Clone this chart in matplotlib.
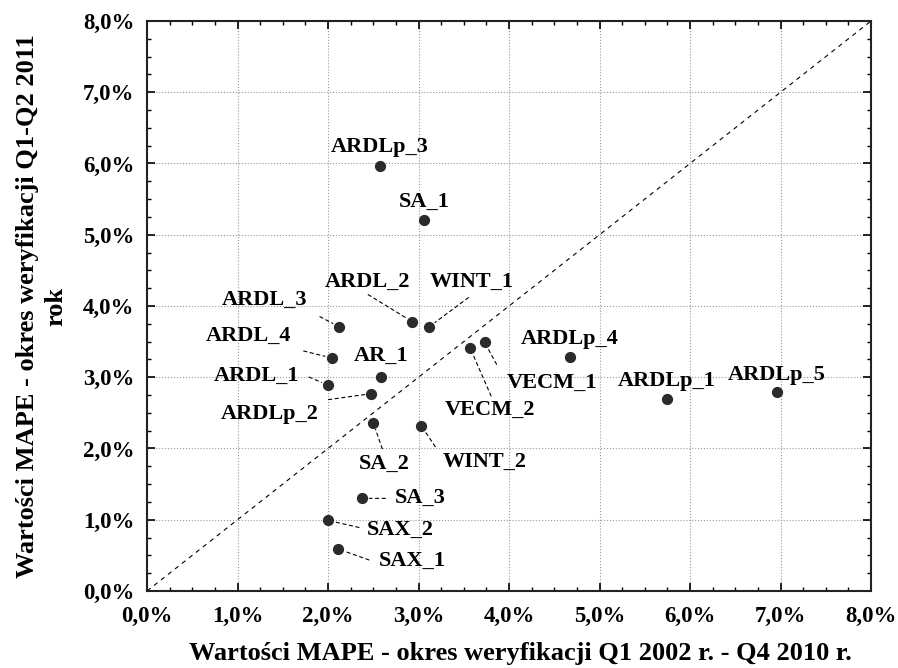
import matplotlib
matplotlib.use("Agg")
import matplotlib.pyplot as plt
from matplotlib.ticker import MultipleLocator, FuncFormatter

# dane: MAPE (%) w okresie Q1 2002 - Q4 2010 (x) i Q1-Q2 2011 (y)
models = ['ARDLp_3', 'SA_1', 'ARDL_2', 'WINT_1', 'ARDL_3', 'ARDL_4', 'AR_1',
          'ARDL_1', 'ARDLp_2', 'VECM_1', 'VECM_2', 'ARDLp_4', 'SA_2', 'WINT_2',
          'SA_3', 'SAX_2', 'SAX_1', 'ARDLp_1', 'ARDLp_5']
mape_fit = [2.57, 3.06, 2.93, 3.12, 2.12, 2.04, 2.59, 2.00, 2.48, 3.73, 3.57,
            4.67, 2.50, 3.03, 2.38, 2.00, 2.11, 5.74, 6.96]
mape_ver = [5.96, 5.20, 3.78, 3.71, 3.71, 3.27, 3.00, 2.89, 2.77, 3.49, 3.41,
            3.28, 2.36, 2.32, 1.30, 0.99, 0.59, 2.69, 2.79]

# przesunięcia etykiet (piksele) i początek linii odniesienia
label_off = {
    'ARDLp_3': (0, 19), 'SA_1': (0, 19), 'ARDL_2': (-45, 40), 'WINT_1': (42, 45),
    'ARDL_3': (-74, 27), 'ARDL_4': (-83, 22), 'AR_1': (0, 21), 'ARDL_1': (-71, 9),
    'ARDLp_2': (-102, -20), 'VECM_1': (67, -41), 'VECM_2': (20, -62),
    'ARDLp_4': (0, 18), 'SA_2': (11, -41), 'WINT_2': (63, -36), 'SA_3': (58, 0),
    'SAX_2': (72, -9), 'SAX_1': (74, -12), 'ARDLp_1': (0, 18), 'ARDLp_5': (0, 17),
}
leader_off = {
    'ARDL_2': (-44, 27), 'WINT_1': (39, 29), 'ARDL_3': (-19, 10), 'ARDL_4': (-28, 7),
    'ARDL_1': (-19, 8), 'ARDLp_2': (-43, -6), 'VECM_1': (12, -22), 'VECM_2': (21, -48),
    'SA_2': (9, -26), 'WINT_2': (14, -21), 'SA_3': (23, 0), 'SAX_2': (31, -7),
    'SAX_1': (31, -11),
}

plt.rcParams['font.family'] = ['Liberation Serif', 'DejaVu Serif']
plt.rcParams['font.weight'] = 'bold'

fig = plt.figure(figsize=(8.98, 6.68), dpi=100)
ax = fig.add_axes([0.1637, 0.1153, 0.8063, 0.8533])

# linia y = x
ax.plot([0, 8], [0, 8], color='black', lw=0.8, ls=(0, (4, 4)), zorder=2)

ax.scatter(mape_fit, mape_ver, s=50, color='#2b2b2b', zorder=4)

for name, xv, yv in zip(models, mape_fit, mape_ver):
    if name in leader_off:
        ax.annotate('', xy=(xv, yv), xytext=leader_off[name], textcoords='offset pixels',
                    arrowprops=dict(arrowstyle='-', ls=(0, (3, 3)), lw=0.8, color='black',
                                    shrinkA=0, shrinkB=5), zorder=3)
    ax.annotate(name, xy=(xv, yv), xytext=label_off[name], textcoords='offset pixels',
                ha='center', va='center', fontsize=16, fontweight='bold', zorder=5)

ax.set_xlim(0, 8)
ax.set_ylim(0, 8)
ax.xaxis.set_major_locator(MultipleLocator(1))
ax.yaxis.set_major_locator(MultipleLocator(1))
ax.xaxis.set_minor_locator(MultipleLocator(0.25))
ax.yaxis.set_minor_locator(MultipleLocator(0.25))
fmt = FuncFormatter(lambda v, p: ('%.1f%%' % v).replace('.', ','))
ax.xaxis.set_major_formatter(fmt)
ax.yaxis.set_major_formatter(fmt)

ax.tick_params(which='both', direction='in', top=True, right=True, labelsize=16.5)
ax.tick_params(axis='x', pad=11)
ax.tick_params(axis='y', pad=9)
ax.tick_params(which='major', length=6, width=1.2)
ax.tick_params(which='minor', length=3, width=1.0)
for sp in ax.spines.values():
    sp.set_linewidth(1.5)
    sp.set_color('#222222')

ax.grid(True, which='major', ls=':', lw=0.8, color='#999999')
ax.set_axisbelow(True)

ax.set_xlabel('Wartości MAPE - okres weryfikacji Q1 2002 r. - Q4 2010 r.',
              fontsize=19, fontweight='bold')
ax.xaxis.set_label_coords(0.515, -0.09)
ax.set_ylabel('Wartości MAPE - okres weryfikacji Q1-Q2 2011\nrok',
              fontsize=19, fontweight='bold', linespacing=1.3)
ax.yaxis.set_label_coords(-0.11, 0.5)

fig.savefig('out.png', dpi=100)
